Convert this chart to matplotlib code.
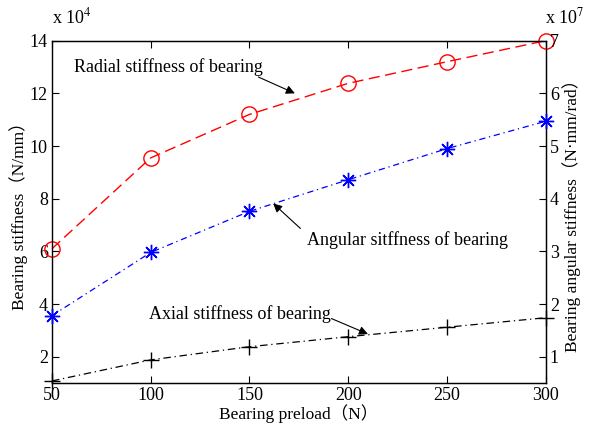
import matplotlib.pyplot as plt
import numpy as np

plt.rcParams['font.family'] = ['Liberation Serif', 'Noto Sans CJK SC']
plt.rcParams['mathtext.fontset'] = 'stix'

# bearing preload (N)
preload = [50, 100, 150, 200, 250, 300]
# stiffness, x 10^4 N/mm
radial = [6.1, 9.55, 11.2, 12.38, 13.2, 14.0]
axial = [1.08, 1.88, 2.38, 2.76, 3.12, 3.48]
# angular stiffness, x 10^7 N.mm/rad
angular = [1.78, 2.98, 3.76, 4.36, 4.95, 5.47]

fig = plt.figure(figsize=(5.96, 4.28), dpi=100)
ax = fig.add_axes([0.0872, 0.105, 0.8284, 0.800])
ax2 = ax.twinx()

ax.plot(preload, radial, color='red', ls=(0, (8, 4)), lw=1, marker='o',
        ms=11, mfc='none', mec='red', mew=1, clip_on=False, zorder=3)
ax.plot(preload, axial, color='black', ls=(0, (6, 3, 1, 3)), lw=0.9, marker='+',
        ms=12, mew=1, clip_on=False, zorder=3)
ax2.plot(preload, angular, color='blue', ls=(0, (5, 3, 1, 3)), lw=0.9,
         marker=(8, 2, 0), ms=11, mec='blue', mew=1, clip_on=False, zorder=3)

ax.set_xlim(50, 300)
ax.set_ylim(1, 14)
ax2.set_ylim(0.5, 7)
ax.set_xticks(preload)
ax.set_yticks([2, 4, 6, 8, 10, 12, 14])
ax2.set_yticks([1, 2, 3, 4, 5, 6, 7])

for a in (ax, ax2):
    a.tick_params(direction='in', length=5, labelsize=13, width=0.8, pad=3)
    for s in a.spines.values():
        s.set_linewidth(0.9)
ax.tick_params(top=True)
ax.spines['left'].set_color('#555555')

ax.set_xlabel('Bearing preload（N）', fontsize=12.5, labelpad=0)
ax.set_ylabel('Bearing stiffness（N/mm）', fontsize=12.5, labelpad=1)
ax2.set_ylabel('Bearing angular stiffness（N·mm/rad）', fontsize=12.5, labelpad=2)

ax.text(0.0, 1.04, 'x 10$^4$', transform=ax.transAxes, fontsize=13,
        ha='left', va='bottom')
ax2.text(0.998, 1.04, 'x 10$^7$', transform=ax2.transAxes, fontsize=13,
         ha='left', va='bottom')

arrow = dict(arrowstyle='-|>', color='black', lw=0.8, mutation_scale=13,
             shrinkA=0, shrinkB=0)

ax.text(157, 13.0, 'Radial stiffness of bearing', fontsize=13,
        ha='right', va='center')
ax.annotate('', xy=(173, 12.0), xytext=(154.5, 12.62), arrowprops=arrow)

ax.text(179, 6.42, 'Angular sitffness of bearing', fontsize=13,
        ha='left', va='center')
ax.annotate('', xy=(162, 7.82), xytext=(175.8, 6.87), arrowprops=arrow)

ax.text(191, 3.63, 'Axial stiffness of bearing', fontsize=13,
        ha='right', va='center')
ax.annotate('', xy=(210, 2.86), xytext=(191.5, 3.45), arrowprops=arrow)

fig.savefig('out.png', dpi=100)
